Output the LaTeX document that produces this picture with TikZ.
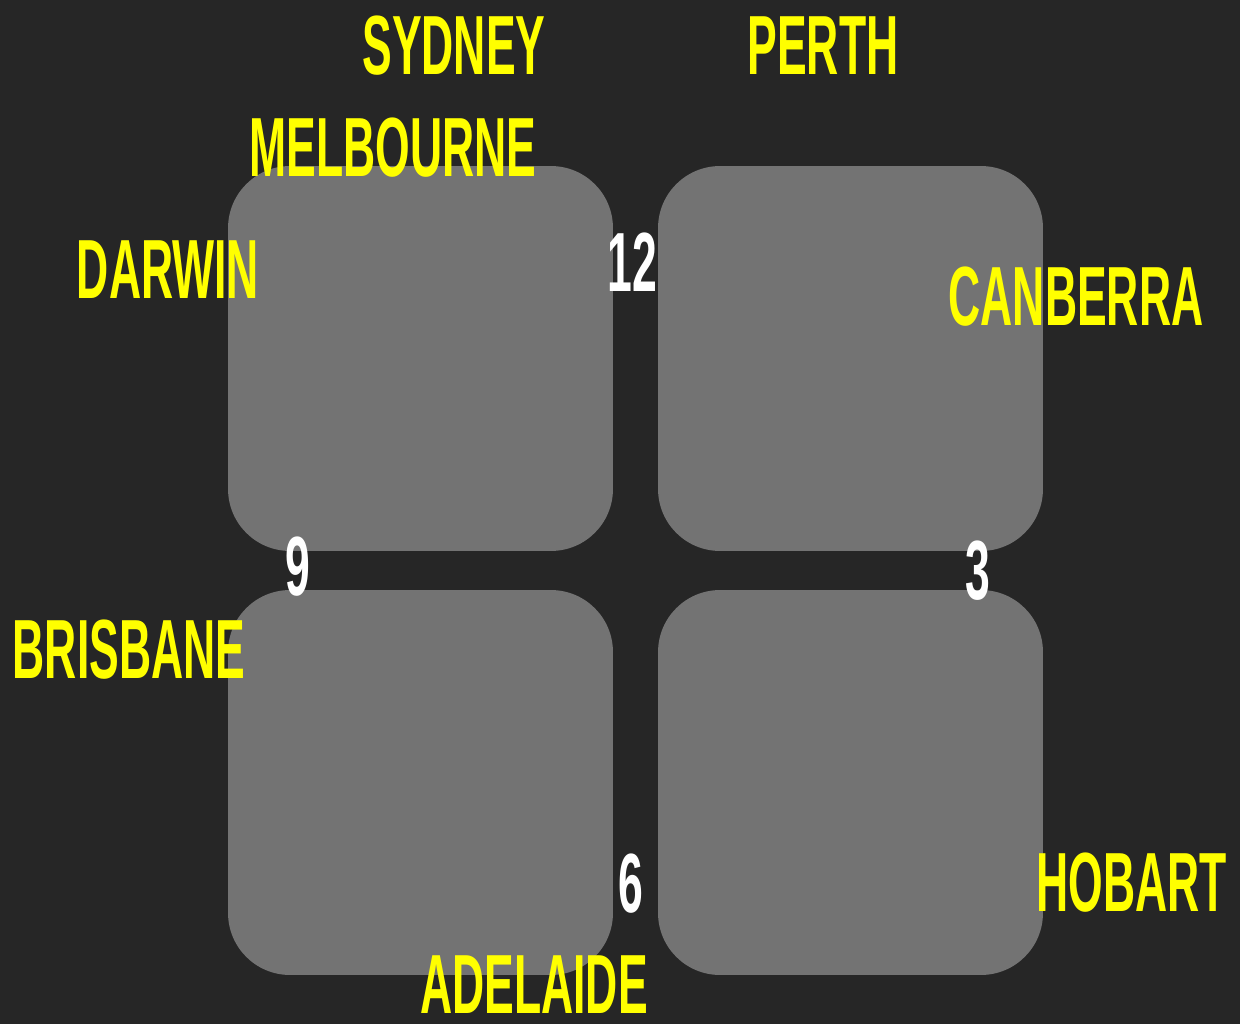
\documentclass[tikz,border=0pt]{standalone}
\usepackage{fontspec}
\usepackage{xcolor}
\usetikzlibrary{positioning}
\newfontfamily\cityfont[FakeStretch=0.53]{Liberation Sans Bold}
\definecolor{bgdark}{HTML}{262626}
\definecolor{tilegray}{HTML}{737373}
\definecolor{cityyellow}{HTML}{FFFF00}
\tikzset{
  tile/.style={fill=tilegray,minimum size=7.7cm,rounded corners=1.24cm,inner sep=0pt},
  city/.style={text=cityyellow,inner sep=0pt,font=\cityfont\fontsize{47.8}{50}\selectfont},
  hour/.style={text=white,inner sep=0pt,font=\cityfont\fontsize{47.8}{50}\selectfont}
}

\begin{document}
\begin{tikzpicture}[x=0.02cm,y=-0.02cm]
  \fill[bgdark] (0,0) rectangle (1240,1024);
  \useasboundingbox (0,0) rectangle (1240,1024);
  % four tiles
  \node[tile] (tileNW) at (420.5,358.5) {};
  \node[tile] (tileNE) at (850.5,358.5) {};
  \node[tile] (tileSW) at (420.5,782.5) {};
  \node[tile] (tileSE) at (850.5,782.5) {};
  % city names
  \foreach \nm/\x/\y/\lab in {sydney/454/46/SYDNEY,perth/823/46/PERTH,melbourne/393/148/MELBOURNE,
      darwin/168/270/DARWIN,canberra/1076/297/CANBERRA,brisbane/129/650/BRISBANE,
      hobart/1132/883/HOBART,adelaide/534/985/ADELAIDE}
    {\node[city] (\nm) at (\x,\y) {\lab};}
  % clock hours
  \foreach \nm/\x/\y/\lab in {hourXII/632/262/12,hourIX/298/567/9,hourIII/978/571/3,hourVI/631/884/6}
    {\node[hour] (\nm) at (\x,\y) {\lab};}
\end{tikzpicture}
\end{document}
